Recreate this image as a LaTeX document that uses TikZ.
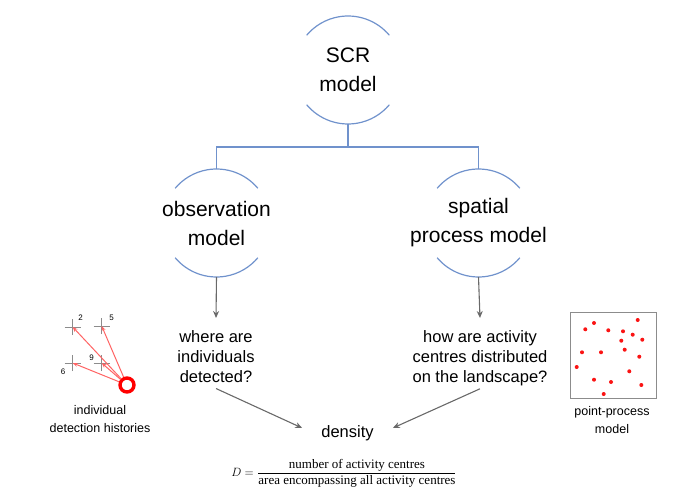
\documentclass[tikz,border=0pt]{standalone}
\usepackage{fontspec}
\usepackage{amsmath}
\setmainfont{Liberation Sans}
\newfontfamily\fracfont{Liberation Serif}
\usetikzlibrary{arrows.meta}
\definecolor{arcblue}{RGB}{112,146,204}
\definecolor{arrgray}{RGB}{105,105,105}
\definecolor{crossgray}{RGB}{140,140,140}
\definecolor{lred}{RGB}{255,100,100}
\definecolor{dotred}{RGB}{250,20,20}
\begin{document}
\begin{tikzpicture}[x=1pt,y=1pt,
  model/.style={circle,minimum size=108pt,inner sep=0pt,outer sep=0pt},
  mlabel/.style={font=\fontsize{21}{29}\selectfont,align=center},
  arcs/.style={draw=arcblue,line width=1.2pt},
  conn/.style={draw=arcblue,line width=1.2pt},
  garrow/.style={draw=arrgray,line width=1.1pt,-{Stealth[length=7pt,width=6pt]}},
  question/.style={font=\fontsize{16.5}{20}\selectfont,align=center,inner xsep=0pt,inner ysep=12pt,anchor=north},
  small/.style={font=\fontsize{12.5}{18}\selectfont,align=center},
  crossm/.style={draw=crossgray,line width=1pt},
  rarrow/.style={draw=lred,line width=1pt,-{Stealth[length=5pt,width=4pt]}},
  num/.style={font=\fontsize{8}{9}\selectfont,inner sep=0pt},
  rdot/.style={circle,fill=dotred,inner sep=0pt,minimum size=4pt}
]
\useasboundingbox (0,0) rectangle (700,501);

% model circles
\node[model,label={[mlabel]center:SCR\\model}] (scr) at (348,431) {};
\node[model,label={[mlabel]center:observation\\model}] (obs) at (216.5,278) {};
\node[model,label={[mlabel]center:spatial\\process model}] (spm) at (478.5,278) {};
\foreach \n in {scr,obs,spm}{
  \draw[arcs] (\n.40) arc[start angle=40,end angle=140,radius=54pt];
  \draw[arcs] (\n.220) arc[start angle=220,end angle=320,radius=54pt];
}

% tree connectors
\coordinate (split) at (348,354);
\draw[conn] (scr.south) -- (split);
\draw[conn] (split) -| (obs.north);
\draw[conn] (split) -| (spm.north);

% questions
\node[question] (q1) at (216,183) {where are\\individuals\\detected?};
\node[question] (q2) at (480,183) {how are activity\\centres distributed\\on the landscape?};
\draw[garrow] (obs.south) -- (q1.north);
\draw[garrow] (spm.south) -- (q2.north);

% density
\node[font=\fontsize{16.5}{20}\selectfont,inner xsep=19pt,inner ysep=3pt] (dens) at (347.5,68) {density};
\draw[garrow] ([yshift=6pt]q1.south) -- ([yshift=5pt]dens.west);
\draw[garrow] ([yshift=9pt]q2.south) -- ([yshift=5pt]dens.east);

% formula
\node[font=\fontsize{13}{15}\selectfont] (formula) at (344,28)
  {$D=\dfrac{\text{\fracfont number of activity centres}}{\text{\fracfont area encompassing all activity centres}}$};

% detection histories
\foreach \nm/\cx/\cy in {c2/72.7/174,c5/101.7/175,c6/72.7/138,c9/101.7/138}{
  \coordinate (\nm) at (\cx,\cy);
  \draw[crossm] ([xshift=-8pt]\nm) -- ([xshift=8pt]\nm);
  \draw[crossm] ([yshift=-8pt]\nm) -- ([yshift=8pt]\nm);
}
\node[num] (n2) at (80.7,183) {2};
\node[num] (n5) at (111.7,183) {5};
\node[num] (n6) at (63,129) {6};
\node[num] (n9) at (91.7,143) {9};
\node[circle,draw=red,line width=3.4pt,minimum size=14pt,inner sep=0pt] (ring) at (127,116) {};
\foreach \nm in {c2,c5,c6,c9}{
  \draw[rarrow] (ring) -- (\nm);
}
\node[small] (dethist) at (100,82) {individual\\detection histories};

% point process
\node[draw=crossgray,line width=1pt,minimum width=86pt,minimum height=86pt,inner sep=0pt] (ppbox) at (613,146) {};
\foreach \px/\py in {637.7/320,594/323,585.3/329.3,608.3/330.3,623/331.3,632.7/334.7,642.3/339.7,621.3/340.7,624.7/349.7,582/352.3,601/352.3,639.3/356.7,576.7/367,629.3/371.3,594/379.7,611/382,641.3/385,603.7/394}{
  \node[rdot] at (\px,501-\py) {};
}
\node[small] (pplabel) at (612,81) {point-process\\model};
\end{tikzpicture}
\end{document}
